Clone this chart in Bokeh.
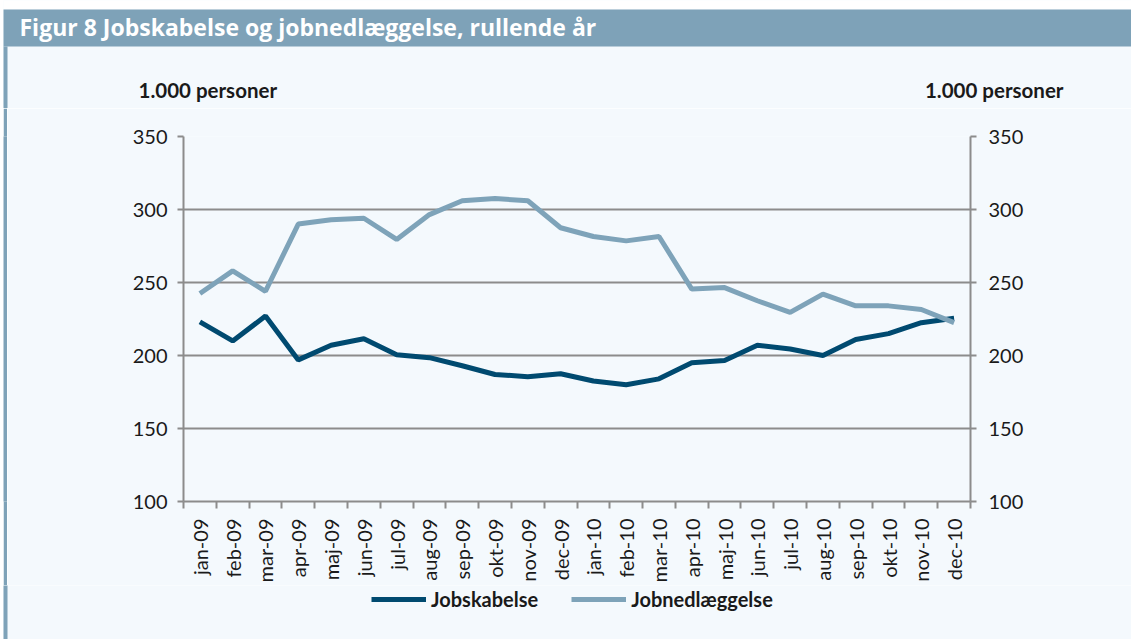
import math
from bokeh.plotting import figure
from bokeh.layouts import column, row, Spacer
from bokeh.models import (Range1d, LinearAxis, FixedTicker, Label, BoxAnnotation,
                          Legend, LegendItem, ColumnDataSource)
from bokeh.embed import file_html
from bokeh.resources import INLINE

months = ["jan-09", "feb-09", "mar-09", "apr-09", "maj-09", "jun-09", "jul-09", "aug-09",
          "sep-09", "okt-09", "nov-09", "dec-09", "jan-10", "feb-10", "mar-10", "apr-10",
          "maj-10", "jun-10", "jul-10", "aug-10", "sep-10", "okt-10", "nov-10", "dec-10"]
jobskabelse = [223, 210, 227, 197, 207, 211.5, 200.5, 198.5, 193, 187, 185.5, 187.5,
               182.5, 180, 184, 195, 196.5, 207, 204.5, 200, 211, 215, 222.5, 225.5]
jobnedlaeggelse = [242.5, 258, 244, 290, 293, 294, 279.5, 296.5, 306, 307.5, 306, 287.5,
                   281.5, 278.5, 281.5, 245.5, 246.5, 237.5, 229.5, 242, 234, 234, 231.5, 222.5]
y_ticks = [100, 150, 200, 250, 300, 350]

title_text = "Figur 8 Jobskabelse og jobnedlæggelse, rullende år"
unit_text = "1.000 personer"

DARK = "#004a70"
LIGHT = "#7ea3b9"
BANNER = "#7ea2b8"
BG = "#f4f9fd"
GREY = "#8c8c8c"
TXT = "#1a1a1a"

TOTAL_W = 1131
EDGE = 3                 # white strip at far left (page x 0..3)
W = TOTAL_W - EDGE       # width of the chart column (page x 3..1131)
AXIS_PANEL = 83          # room taken by the x axis below the frame
FRAME_L, FRAME_R, FRAME_T, FRAME_B = 183, 970, 136, 502   # page pixels
HT = 108                 # header height
HM = (FRAME_B - HT) + AXIS_PANEL   # main height
HF = 639 - HT - HM       # footer height
BAR = 4                  # coloured bar (page x 3..7)


def blank(width, height, fill=BG):
    f = figure(width=width, height=height, x_range=Range1d(0, 1), y_range=Range1d(0, 1),
               x_axis_type=None, y_axis_type=None, output_backend="svg",
               toolbar_location=None, min_border=0)
    f.background_fill_color = fill
    f.border_fill_color = fill
    f.outline_line_color = None
    f.grid.visible = False
    return f


def box(fig, left, right, top, bottom, color):
    fig.add_layout(BoxAnnotation(left=left, right=right, top=top, bottom=bottom,
                                 left_units="screen", right_units="screen",
                                 top_units="screen", bottom_units="screen",
                                 fill_color=color, fill_alpha=1, line_color=None))


src = ColumnDataSource(dict(x=list(range(len(months))), jobskabelse=jobskabelse,
                            jobnedlaeggelse=jobnedlaeggelse))

# ---------- header (x measured from page x = EDGE) ----------
hdr = blank(W, HT)
box(hdr, -5, W + 5, HT + 5, HT - 9, "white")
box(hdr, -5, W + 5, HT - 9, HT - 46, BANNER)
box(hdr, -5, BAR, HT - 46, -5, BANNER)
hdr.add_layout(Label(x=19 - EDGE, y=HT - 26, x_units="screen", y_units="screen",
                     text=title_text, text_color="white", text_font="Open Sans",
                     text_font_style="bold", text_font_size="23px",
                     text_baseline="middle", text_align="left"))
hdr.add_layout(Label(x=138 - EDGE, y=HT - 89, x_units="screen", y_units="screen",
                     text=unit_text, text_color=TXT, text_font="Lato",
                     text_font_style="bold", text_font_size="20.5px",
                     text_baseline="middle", text_align="left"))
hdr.add_layout(Label(x=1063 - EDGE, y=HT - 89, x_units="screen", y_units="screen",
                     text=unit_text, text_color=TXT, text_font="Lato",
                     text_font_style="bold", text_font_size="20.5px",
                     text_baseline="middle", text_align="right"))

# ---------- coloured bar beside main chart ----------
bar = blank(BAR, HM, fill=BANNER)

# ---------- main chart ----------
WM = W - BAR
left0 = EDGE + BAR
p = figure(width=WM, height=HM, x_range=Range1d(-0.5, len(months) - 0.5),
           y_range=Range1d(100, 350), output_backend="svg", toolbar_location=None,
           min_border_left=FRAME_L - left0, min_border_right=TOTAL_W - FRAME_R,
           min_border_top=FRAME_T - HT, min_border_bottom=AXIS_PANEL)
p.background_fill_color = BG
p.border_fill_color = BG
p.outline_line_color = None

xa = p.xaxis[0]
xa.ticker = FixedTicker(ticks=list(range(len(months))),
                        minor_ticks=[i - 0.5 for i in range(len(months) + 1)])
xa.major_label_overrides = {i: m for i, m in enumerate(months)}
xa.major_tick_out = 0
xa.major_tick_in = 0
xa.minor_tick_out = 7
xa.minor_tick_in = 0
xa.minor_tick_line_color = GREY
xa.minor_tick_line_width = 2
xa.axis_line_color = GREY
xa.axis_line_width = 2
xa.major_label_orientation = math.pi / 2
xa.major_label_standoff = 10
xa.major_label_text_font = "Lato"
xa.major_label_text_font_size = "20px"
xa.major_label_text_color = TXT
p.xgrid.grid_line_color = None


def style_y(ax, standoff):
    ax.ticker = FixedTicker(ticks=y_ticks)
    ax.major_tick_out = 6
    ax.major_tick_in = 0
    ax.major_tick_line_color = GREY
    ax.major_tick_line_width = 2
    ax.minor_tick_line_color = None
    ax.axis_line_color = GREY
    ax.axis_line_width = 2
    ax.major_label_standoff = standoff
    ax.major_label_text_font = "Lato"
    ax.major_label_text_font_size = "20px"
    ax.major_label_text_color = TXT


style_y(p.yaxis[0], 10)
ra = LinearAxis()
style_y(ra, 12)
p.add_layout(ra, "right")

p.ygrid.ticker = FixedTicker(ticks=y_ticks)
p.ygrid.grid_line_color = GREY
p.ygrid.grid_line_width = 2

p.line("x", "jobskabelse", source=src, line_color=DARK, line_width=5)
p.line("x", "jobnedlaeggelse", source=src, line_color=LIGHT, line_width=5)

# ---------- footer with legend ----------
ftr = blank(W, HF)
box(ftr, -5, BAR, HF + 5, -5, BANNER)
# same series, outside the footer's view: only their legend samples show
f1 = ftr.line("x", "jobskabelse", source=src, line_color=DARK, line_width=5)
f2 = ftr.line("x", "jobnedlaeggelse", source=src, line_color=LIGHT, line_width=5)
legend = Legend(items=[LegendItem(label="Jobskabelse", renderers=[f1]),
                       LegendItem(label="Jobnedlæggelse", renderers=[f2])],
                orientation="horizontal", location=(371 - EDGE, 28),
                glyph_width=55, glyph_height=20, label_standoff=5, spacing=33,
                padding=0, margin=0, border_line_color=None, background_fill_alpha=0,
                label_text_font="Lato", label_text_font_style="bold",
                label_text_font_size="20px", label_text_color=TXT)
ftr.add_layout(legend)

chart = column(hdr, row(bar, p, spacing=0), ftr, spacing=0)
layout = row(Spacer(width=EDGE, height=HT + HM + HF), chart, spacing=0)

open("out.html", "w").write(file_html(layout, INLINE))
